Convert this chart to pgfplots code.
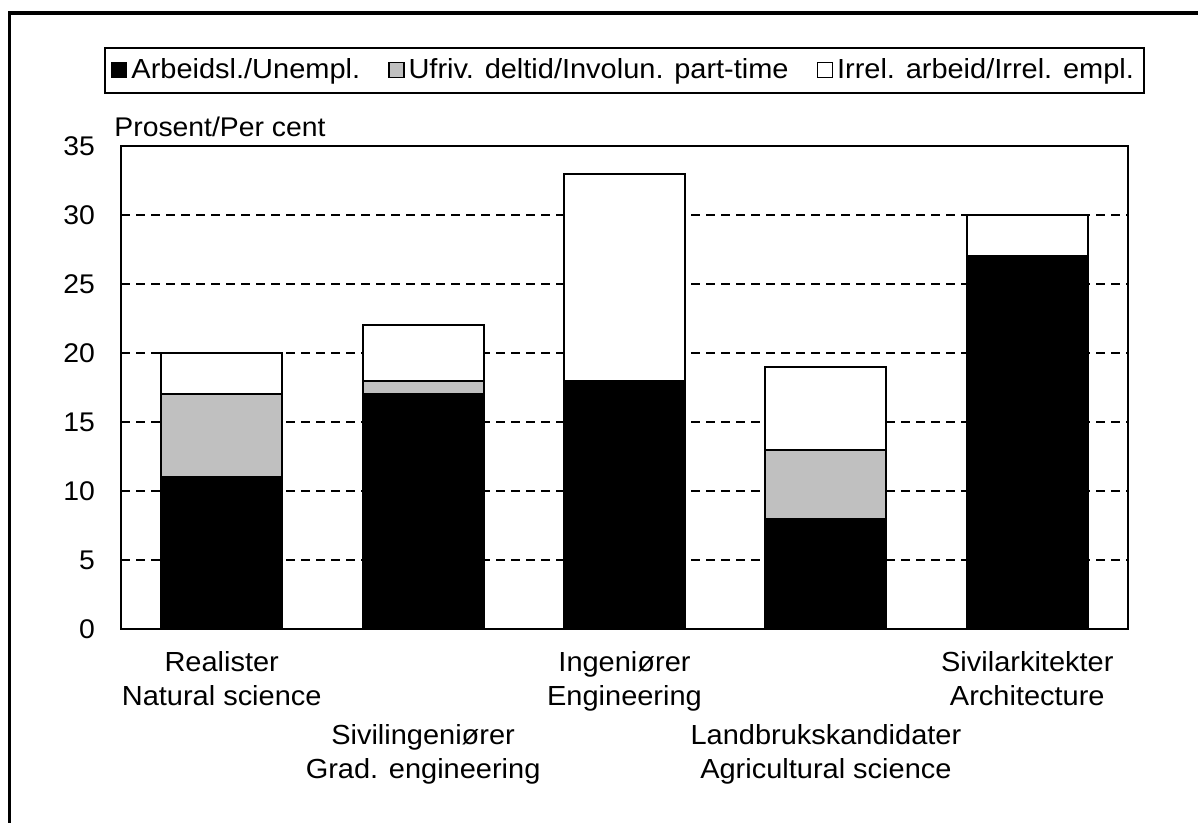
\documentclass[border=0pt]{standalone}
\usepackage{fontspec}
\setmainfont{Liberation Sans}[FakeStretch=1.05]
\usepackage{pgfplots}
\pgfplotsset{compat=1.18}
\definecolor{lgray}{RGB}{192,192,192}
\begin{document}
\begin{tikzpicture}[x=1pt,y=1pt]
\useasboundingbox (0,0) rectangle (599,411.5);
\draw[line width=1.6pt] (4.75,0) -- (4.75,405) -- (599,405);
\begin{axis}[
  at={(60.5pt,97pt)}, anchor=south west,
  width=503.5pt, height=241.5pt, scale only axis,
  xmin=-0.5, xmax=4.5, ymin=0, ymax=35,
  ybar stacked, bar width=0.6,
  ytick={0,5,...,35},
  xtick={0,2,4},
  xticklabels={{Realister\\Natural science},{Ingeniører\\Engineering},{Sivilarkitekter\\Architecture}},
  extra x ticks={1,3},
  extra x tick labels={{Sivilingeniører\\Grad. engineering},{Landbrukskandidater\\Agricultural science}},
  extra x tick style={xticklabel style={yshift=-36.5pt}},
  major tick length=0pt,
  /pgf/number format/assume math mode=true,
  axis line style={line width=1pt},
  ymajorgrids,
  grid style={black, line width=0.8pt, dash pattern=on 4.5pt off 3pt},
  xticklabel style={font=\fontsize{13.8}{17}\selectfont, align=center, anchor=north, yshift=-7.5pt},
  yticklabel style={font=\fontsize{13.5}{15}\selectfont, xshift=-9.5pt},
  ylabel={Prosent/Per cent},
  ylabel style={rotate=-90, at={(axis description cs:0,1)}, anchor=base west, inner sep=0pt, xshift=-3.5pt, yshift=4.5pt, font=\fontsize{13.5}{15}\selectfont},
  every axis plot post/.append style={draw=black, line width=1pt,
    legend image code/.code={\draw[##1, line width=0.7pt] (0pt,-3.8pt) rectangle (7.5pt,3.8pt);}},
  legend style={at={(axis description cs:0.5,1.1573)}, anchor=center, legend columns=3,
    draw=black, line width=1pt, font=\fontsize{13.8}{15}\selectfont,
    /tikz/every even column/.append style={column sep=12pt},
    inner ysep=3.5pt},
]
\addplot[fill=black] coordinates {(0,11) (1,17) (2,18) (3,8) (4,27)};
\addplot[fill=lgray] coordinates {(0,6) (1,1) (2,0) (3,5) (4,0)};
\addplot[fill=white] coordinates {(0,3) (1,4) (2,15) (3,6) (4,3)};
\legend{Arbeidsl./Unempl.,Ufriv. deltid/Involun. part-time,Irrel. arbeid/Irrel. empl.}
\end{axis}
\end{tikzpicture}
\end{document}
